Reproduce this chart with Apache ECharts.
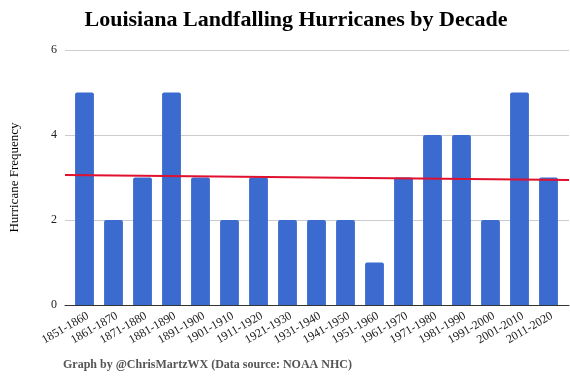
<!DOCTYPE html>
<html>
<head>
<meta charset="utf-8">
<script src="https://cdn.jsdelivr.net/npm/echarts@6/dist/echarts.min.js"></script>
<style>html,body{margin:0;padding:0;background:#fff}#c{width:570px;height:382px}</style>
</head>
<body>
<div id="c"></div>
<script>
const decades = ['1851-1860','1861-1870','1871-1880','1881-1890','1891-1900','1901-1910','1911-1920','1921-1930','1931-1940','1941-1950','1951-1960','1961-1970','1971-1980','1981-1990','1991-2000','2001-2010','2011-2020'];
const hurricanes = [5,2,3,5,3,2,3,2,2,2,1,3,4,4,2,5,3];
const trendStart = 3.06;
const trendEnd = 2.94;
const yTicks = [0,2,4,6];

const serif = '"Liberation Serif","DejaVu Serif",serif';
const chart = echarts.init(document.getElementById('c'), null, {renderer:'canvas'});
const yMin = yTicks[0], yMax = yTicks[yTicks.length-1];
chart.setOption({
  animation:false,
  backgroundColor:'#fff',
  title:[{
    text:'Louisiana Landfalling Hurricanes by Decade',
    left:296, top:9, textAlign:'center', padding:0,
    textStyle:{fontFamily:serif,fontWeight:'bold',fontSize:22,color:'#000'}
  },{
    text:'Graph by @ChrisMartzWX (Data source: NOAA NHC)',
    left:63, top:359, padding:0,
    textStyle:{fontFamily:serif,fontWeight:'bold',fontSize:12,color:'#555'}
  }],
  grid:[
    {left:64,right:1,top:50,bottom:77},
    {left:70,right:7,top:50,bottom:77}
  ],
  xAxis:[{
    gridIndex:0, type:'value', min:0, max:1, show:true,
    axisLine:{show:true,lineStyle:{color:'#333',width:1}},
    axisTick:{show:false}, axisLabel:{show:false}, splitLine:{show:false}
  },{
    gridIndex:1, type:'category', data:decades,
    axisLine:{show:false},
    axisTick:{show:false},
    axisLabel:{rotate:30,interval:0,fontFamily:serif,fontSize:12,color:'#222',margin:12,padding:[0,-4,0,0]}
  }],
  yAxis:[{
    gridIndex:0, type:'value', min:yMin, max:yMax, interval:2,
    name:'Hurricane Frequency', nameLocation:'middle', nameGap:44,
    nameTextStyle:{fontFamily:serif,fontSize:13,color:'#000'},
    axisLine:{show:false}, axisTick:{show:false},
    axisLabel:{fontFamily:serif,fontSize:12,color:'#222',margin:8},
    splitLine:{lineStyle:{color:'#ccc'}}
  },{
    gridIndex:1, type:'value', min:yMin, max:yMax, interval:2, show:false,
    splitLine:{show:false}
  }],
  series:[{
    type:'bar', xAxisIndex:1, yAxisIndex:1, data:hurricanes, barWidth:'65%',
    itemStyle:{color:'#3b6bcf',borderRadius:[2,2,0,0]}
  },{
    type:'line', xAxisIndex:0, yAxisIndex:0, data:[[0,trendStart],[1,trendEnd]],
    symbol:'none', lineStyle:{color:'#e0102e',width:2}, z:5
  }]
});
</script>
</body>
</html>
